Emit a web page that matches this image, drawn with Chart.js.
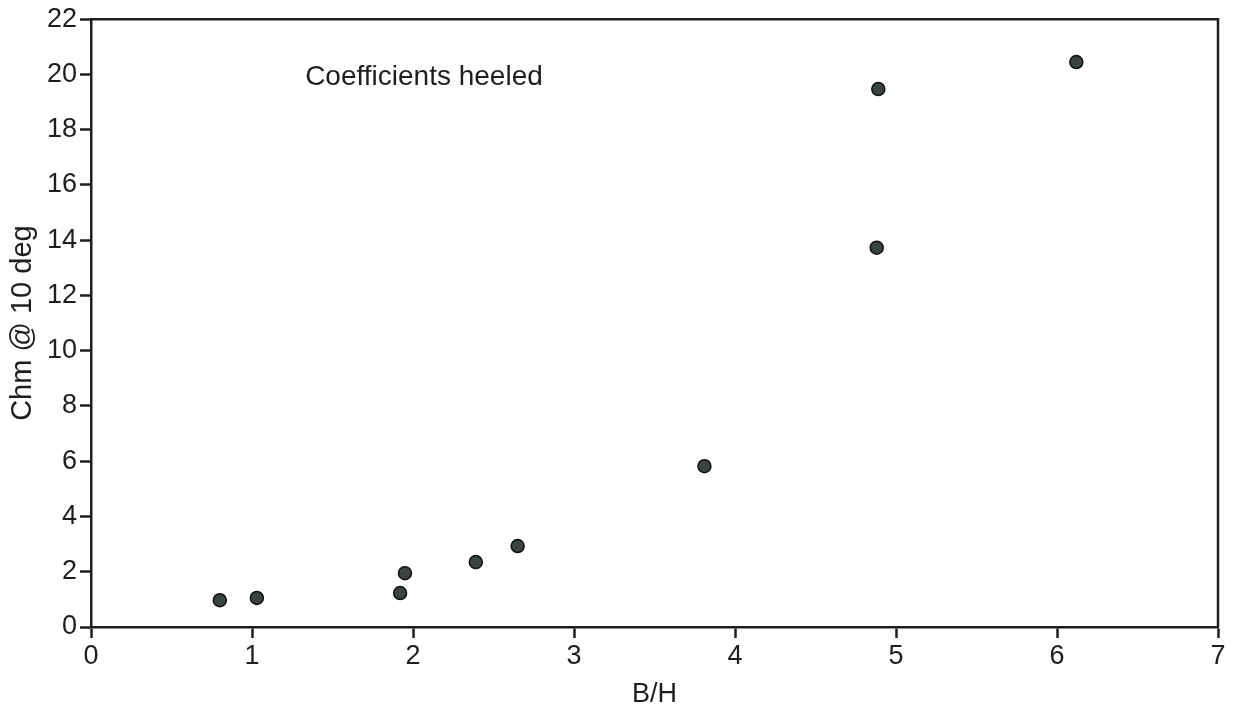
<!DOCTYPE html>
<html>
<head>
<meta charset="utf-8">
<style>
  html, body { margin: 0; padding: 0; background: #ffffff; }
  #wrap { width: 1236px; height: 713px; position: relative; }
</style>
<script src="https://cdn.jsdelivr.net/npm/chart.js@4/dist/chart.umd.min.js"></script>
</head>
<body>
<div id="wrap"><canvas id="chart" width="1236" height="713"></canvas></div>
<script>
// B/H ratio against heeled moment coefficient at 10 degrees
const ratioBH = [0.80, 1.03, 1.92, 1.95, 2.39, 2.65, 3.81, 4.88, 4.89, 6.12];
const chm10   = [0.97, 1.05, 1.23, 1.95, 2.35, 2.93, 5.82, 13.73, 19.47, 20.45];

const xTicks = [0, 1, 2, 3, 4, 5, 6, 7];
const yTicks = [0, 2, 4, 6, 8, 10, 12, 14, 16, 18, 20, 22];

const noteText = 'Coefficients heeled';
const notePos = { x: 1.33, y: 19.9 };

const ink = '#1e1e1e';
const fontFamily = '"Liberation Sans", Arial, Helvetica, sans-serif';

const points = ratioBH.map((x, i) => ({ x: x, y: chm10[i] }));

// Closes the plot box on the top and right sides and writes the note
const framePlugin = {
  id: 'frameAndNote',
  afterDraw(chart) {
    const { ctx, chartArea, scales } = chart;
    ctx.save();
    ctx.strokeStyle = ink;
    ctx.lineWidth = 2.5;
    ctx.beginPath();
    ctx.moveTo(chartArea.left, chartArea.top);
    ctx.lineTo(chartArea.right, chartArea.top);
    ctx.lineTo(chartArea.right, chartArea.bottom);
    ctx.stroke();

    ctx.fillStyle = ink;
    ctx.font = '28px ' + fontFamily;
    ctx.textAlign = 'left';
    ctx.textBaseline = 'middle';
    ctx.fillText(noteText, scales.x.getPixelForValue(notePos.x), scales.y.getPixelForValue(notePos.y));
    ctx.restore();
  }
};

new Chart(document.getElementById('chart'), {
  type: 'scatter',
  data: {
    datasets: [{
      data: points,
      backgroundColor: '#3a4242',
      borderColor: '#111111',
      borderWidth: 1.5,
      pointRadius: 6.5,
      pointHoverRadius: 6.5
    }]
  },
  options: {
    responsive: false,
    animation: false,
    events: [],
    layout: { padding: { left: 0, right: 18, top: 18, bottom: 0 } },
    plugins: {
      legend: { display: false },
      tooltip: { enabled: false }
    },
    scales: {
      x: {
        type: 'linear',
        min: 0,
        max: 7,
        afterBuildTicks(scale) { scale.ticks = xTicks.map(v => ({ value: v })); },
        afterFit(scale) { scale.height = 86; },
        ticks: {
          color: ink,
          font: { family: fontFamily, size: 27, lineHeight: 1.2 },
          padding: 2,
          maxRotation: 0,
          autoSkip: false
        },
        grid: {
          drawOnChartArea: false,
          drawTicks: true,
          tickLength: 11,
          tickColor: ink,
          tickWidth: 2.5
        },
        border: { display: true, color: ink, width: 2.5 },
        title: {
          display: true,
          text: 'B/H',
          color: ink,
          font: { family: fontFamily, size: 27, lineHeight: 1.2 },
          padding: { top: 0, bottom: 2 }
        }
      },
      y: {
        type: 'linear',
        min: 0,
        max: 22,
        afterBuildTicks(scale) { scale.ticks = yTicks.map(v => ({ value: v })); },
        afterFit(scale) { scale.width = 91; },
        ticks: {
          color: ink,
          font: { family: fontFamily, size: 27, lineHeight: 1.2 },
          padding: 3,
          autoSkip: false
        },
        grid: {
          drawOnChartArea: false,
          drawTicks: true,
          tickLength: 11,
          tickColor: ink,
          tickWidth: 2.5
        },
        border: { display: true, color: ink, width: 2.5 },
        title: {
          display: true,
          text: 'Chm @ 10 deg',
          color: ink,
          font: { family: fontFamily, size: 29, lineHeight: 1.2 },
          padding: { top: 6, bottom: 0 }
        }
      }
    }
  },
  plugins: [framePlugin]
});
</script>
</body>
</html>
